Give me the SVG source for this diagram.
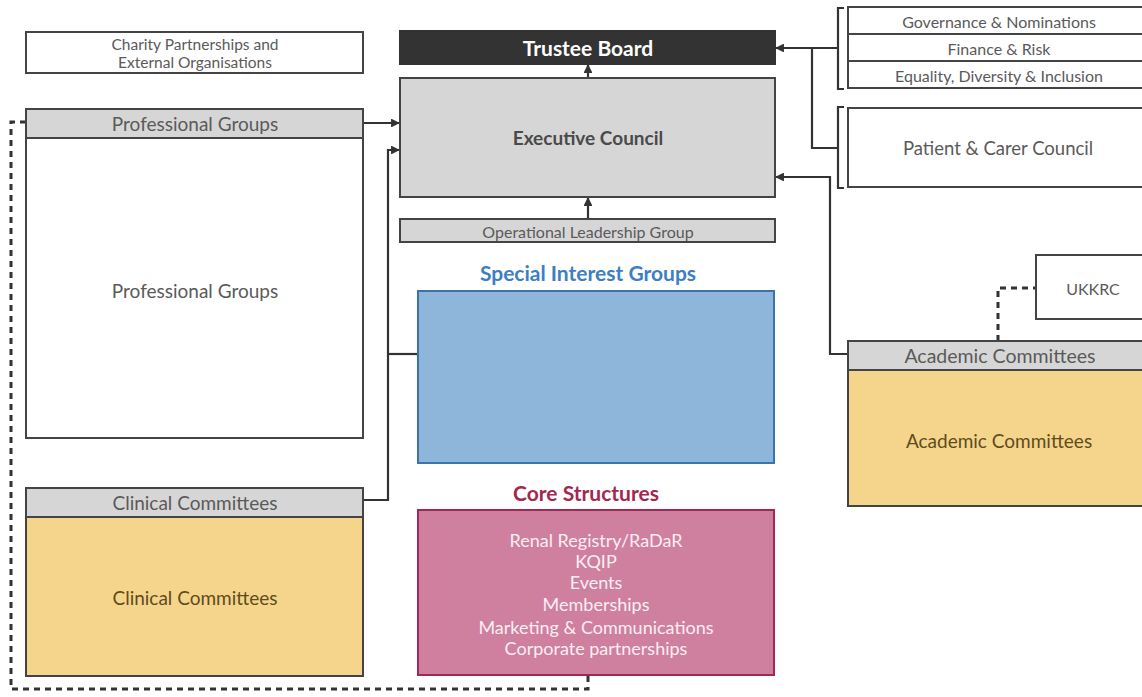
<svg xmlns="http://www.w3.org/2000/svg" width="1142" height="697" viewBox="0 0 1142 697">
<defs>
<marker id="ah" viewBox="0 0 10 10" refX="9" refY="5" markerWidth="4" markerHeight="4" orient="auto"><path d="M0,0 L10,5 L0,10 z" fill="#333"/></marker>
<style>
text{font-family:"Lato","Liberation Sans",sans-serif;text-anchor:middle;dominant-baseline:central;fill:#5a5a5a}
.box{stroke:#444;stroke-width:2;fill:#fff}
.grey{fill:#d6d6d6}
.yel{fill:#f5d58c}
.ln{fill:none;stroke:#333;stroke-width:2.2}
.dash{fill:none;stroke:#333;stroke-width:3;stroke-dasharray:6,5}
.wt{fill:#fbeef3;font-size:18px}
.hd{font-size:19px}
.yt{font-size:19px;fill:#5e4c1c}
.cm{font-size:16px}
</style>
</defs>
<rect width="1142" height="697" fill="#fff"/>
<g id="connectors">
<line class="ln" x1="588" y1="78" x2="588" y2="65" marker-end="url(#ah)"/>
<line class="ln" x1="588" y1="219" x2="588" y2="198" marker-end="url(#ah)"/>
<line class="ln" x1="363" y1="123" x2="399" y2="123" marker-end="url(#ah)"/>
<path class="ln" d="M363,500 H388 V150 H399" marker-end="url(#ah)"/>
<line class="ln" x1="388" y1="354" x2="418" y2="354"/>
<path class="ln" d="M838,48 H776" marker-end="url(#ah)"/>
<path class="ln" d="M812,48 V148 H838"/>
<path class="ln" d="M848,354 H830 V177 H776" marker-end="url(#ah)"/>
<path class="ln" d="M844,8 H838 V89 H844"/>
<path class="ln" d="M844,107 H838 V188 H844"/>
<path class="dash" d="M998,341 V288 H1036"/>
<path class="dash" d="M26,122 H11 V689 H588 V676"/>
</g>
<g id="charity">
<rect class="box" x="26" y="32" width="337" height="41"/>
<text x="195" y="44" style="font-size:15.5px">Charity Partnerships and</text>
<text x="195" y="62" style="font-size:15.5px">External Organisations</text>
</g>
<g id="professional-groups">
<rect class="box" x="26" y="138" width="337" height="300"/>
<rect class="box grey" x="26" y="109" width="337" height="29"/>
<text class="hd" x="195" y="123">Professional Groups</text>
<text class="hd" x="195" y="290">Professional Groups</text>
</g>
<g id="trustee-board">
<rect x="400" y="31" width="375" height="33" fill="#333" stroke="#333" stroke-width="2"/>
<text x="588" y="47" style="fill:#fff;font-size:21px;font-weight:bold">Trustee Board</text>
</g>
<g id="executive-council">
<rect class="box grey" x="400" y="78" width="375" height="119"/>
<text x="588" y="137" style="font-size:19px;font-weight:bold;fill:#4a4a4a">Executive Council</text>
</g>
<g id="olg">
<rect class="box grey" x="400" y="219" width="375" height="23"/>
<text x="588" y="231" style="font-size:16px">Operational Leadership Group</text>
</g>
<g id="sig">
<text x="588" y="272" style="font-size:21px;font-weight:bold;fill:#3d7fc1">Special Interest Groups</text>
<rect x="418" y="291" width="356" height="172" fill="#8db6da" stroke="#3b74a8" stroke-width="2"/>
</g>
<g id="core">
<text x="586" y="492" style="font-size:21px;font-weight:bold;fill:#a3284f">Core Structures</text>
<rect x="418" y="510" width="356" height="165" fill="#cf809f" stroke="#a32753" stroke-width="2"/>
<text class="wt" x="596" y="540">Renal Registry/RaDaR</text>
<text class="wt" x="596" y="561">KQIP</text>
<text class="wt" x="596" y="582">Events</text>
<text class="wt" x="596" y="604">Memberships</text>
<text class="wt" x="596" y="627">Marketing &amp; Communications</text>
<text class="wt" x="596" y="648">Corporate partnerships</text>
</g>
<g id="clinical-committees">
<rect class="box yel" x="26" y="517" width="337" height="159"/>
<rect class="box grey" x="26" y="488" width="337" height="29"/>
<text class="hd" x="195" y="502">Clinical Committees</text>
<text class="yt" x="195" y="597">Clinical Committees</text>
</g>
<g id="board-committees">
<rect class="box" x="848" y="7" width="300" height="27"/>
<rect class="box" x="848" y="34" width="300" height="27"/>
<rect class="box" x="848" y="61" width="300" height="27"/>
<text class="cm" x="999" y="21">Governance &amp; Nominations</text>
<text class="cm" x="999" y="48">Finance &amp; Risk</text>
<text class="cm" x="999" y="75">Equality, Diversity &amp; Inclusion</text>
</g>
<g id="patient-carer">
<rect class="box" x="848" y="108" width="300" height="79"/>
<text x="998" y="148" style="font-size:18.5px">Patient &amp; Carer Council</text>
</g>
<g id="ukkrc">
<rect class="box" x="1036" y="255" width="110" height="64"/>
<text class="cm" x="1093" y="288">UKKRC</text>
</g>
<g id="academic-committees">
<rect class="box yel" x="848" y="370" width="300" height="136"/>
<rect class="box grey" x="848" y="341" width="300" height="29"/>
<text x="1000" y="355" style="font-size:19.5px">Academic Committees</text>
<text class="yt" x="999" y="440">Academic Committees</text>
</g>
</svg>
